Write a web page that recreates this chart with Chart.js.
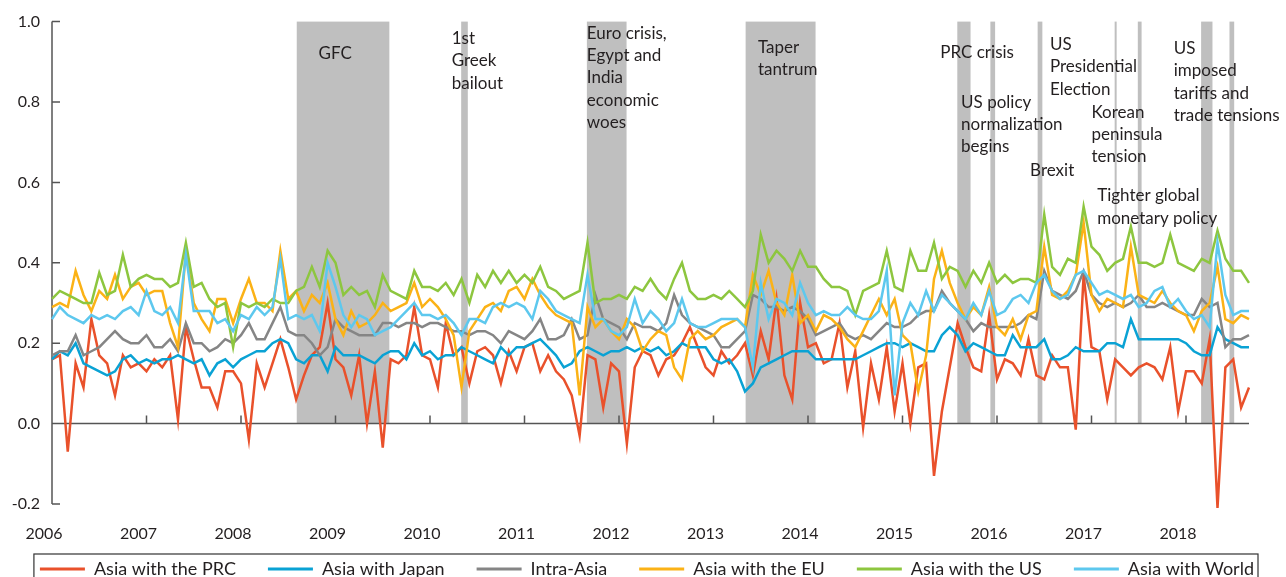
<!DOCTYPE html>
<html>
<head>
<meta charset="utf-8">
<script src="https://cdn.jsdelivr.net/npm/chart.js@4.4.1/dist/chart.umd.min.js"></script>
<style>
  html, body { margin: 0; padding: 0; background: #fff; overflow: hidden; }
  #wrap { width: 1286px; height: 588px; }
</style>
</head>
<body>
<div id="wrap"><canvas id="chart" width="1286" height="588"></canvas></div>
<script>
// monthly observations, Jan 2006 - Sep 2018
const months = [];
for (let yr = 2006; yr <= 2018; yr++) {
    for (let m = 1; m <= 12; m++) {
        if (yr === 2018 && m > 9) break;
        months.push(yr + "-" + String(m).padStart(2, "0"));
    }
}

const prc = [
    0.16, 0.17, -0.07, 0.15, 0.09, 0.26, 0.17, 0.15, 0.07, 0.17, 0.14, 0.15,
    0.13, 0.16, 0.14, 0.17, 0.01, 0.24, 0.16, 0.09, 0.09, 0.04, 0.13, 0.13,
    0.10, -0.04, 0.15, 0.09, 0.15, 0.21, 0.14, 0.06, 0.12, 0.17, 0.19, 0.30,
    0.16, 0.14, 0.07, 0.17, 0.0, 0.13, -0.06, 0.16, 0.15, 0.17, 0.29, 0.17,
    0.16, 0.09, 0.25, 0.17, 0.19, 0.10, 0.18, 0.19, 0.17, 0.10, 0.18, 0.13,
    0.19, 0.20, 0.13, 0.17, 0.13, 0.11, 0.07, -0.03, 0.17, 0.16, 0.04, 0.15,
    0.13, -0.05, 0.14, 0.18, 0.17, 0.12, 0.16, 0.17, 0.20, 0.24, 0.19, 0.14,
    0.12, 0.18, 0.15, 0.17, 0.20, 0.12, 0.23, 0.16, 0.31, 0.12, 0.06, 0.30,
    0.19, 0.20, 0.15, 0.16, 0.25, 0.09, 0.18, -0.01, 0.15, 0.06, 0.19, 0.03,
    0.15, 0.0, 0.14, 0.15, -0.13, 0.03, 0.14, 0.25, 0.19, 0.14, 0.13, 0.27,
    0.11, 0.16, 0.15, 0.12, 0.21, 0.12, 0.11, 0.17, 0.14, 0.14, -0.015, 0.37,
    0.19, 0.18, 0.06, 0.16, 0.14, 0.12, 0.14, 0.15, 0.14, 0.11, 0.19, 0.03,
    0.13, 0.13, 0.10, 0.21, -0.21, 0.14, 0.16, 0.04, 0.09
];
const japan = [
    0.16, 0.18, 0.17, 0.20, 0.15, 0.14, 0.13, 0.12, 0.13, 0.16, 0.17, 0.15,
    0.16, 0.15, 0.16, 0.16, 0.17, 0.16, 0.15, 0.16, 0.12, 0.15, 0.16, 0.14,
    0.16, 0.17, 0.18, 0.18, 0.20, 0.21, 0.20, 0.16, 0.15, 0.17, 0.17, 0.13,
    0.19, 0.17, 0.17, 0.17, 0.16, 0.15, 0.17, 0.18, 0.18, 0.16, 0.20, 0.17,
    0.18, 0.16, 0.17, 0.17, 0.19, 0.18, 0.17, 0.16, 0.15, 0.19, 0.17, 0.19,
    0.19, 0.20, 0.21, 0.19, 0.17, 0.14, 0.15, 0.18, 0.19, 0.18, 0.17, 0.18,
    0.18, 0.19, 0.18, 0.19, 0.18, 0.19, 0.17, 0.18, 0.20, 0.19, 0.19, 0.19,
    0.16, 0.15, 0.16, 0.13, 0.08, 0.10, 0.14, 0.15, 0.16, 0.17, 0.18, 0.18,
    0.18, 0.16, 0.16, 0.16, 0.16, 0.16, 0.16, 0.17, 0.18, 0.19, 0.20, 0.20,
    0.19, 0.20, 0.19, 0.18, 0.18, 0.22, 0.24, 0.22, 0.18, 0.20, 0.19, 0.18,
    0.17, 0.17, 0.22, 0.19, 0.19, 0.19, 0.21, 0.16, 0.16, 0.17, 0.19, 0.18,
    0.18, 0.18, 0.20, 0.20, 0.19, 0.26, 0.21, 0.21, 0.21, 0.21, 0.21, 0.21,
    0.20, 0.18, 0.17, 0.17, 0.24, 0.21, 0.20, 0.19, 0.19
];
const intraAsia = [
    0.17, 0.18, 0.18, 0.22, 0.17, 0.18, 0.19, 0.21, 0.23, 0.21, 0.20, 0.20,
    0.22, 0.19, 0.19, 0.21, 0.18, 0.25, 0.20, 0.20, 0.18, 0.19, 0.21, 0.20,
    0.22, 0.25, 0.21, 0.21, 0.25, 0.29, 0.23, 0.22, 0.22, 0.20, 0.17, 0.19,
    0.26, 0.24, 0.23, 0.22, 0.22, 0.22, 0.25, 0.25, 0.24, 0.25, 0.25, 0.24,
    0.25, 0.25, 0.24, 0.23, 0.23, 0.22, 0.23, 0.23, 0.22, 0.20, 0.23, 0.22,
    0.21, 0.23, 0.26, 0.21, 0.21, 0.22, 0.26, 0.21, 0.22, 0.32, 0.26, 0.25,
    0.24, 0.21, 0.25, 0.24, 0.24, 0.23, 0.25, 0.32, 0.27, 0.25, 0.24, 0.23,
    0.22, 0.19, 0.19, 0.21, 0.23, 0.32, 0.31, 0.29, 0.29, 0.28, 0.29, 0.28,
    0.26, 0.22, 0.23, 0.24, 0.25, 0.22, 0.21, 0.22, 0.21, 0.23, 0.25, 0.24,
    0.24, 0.25, 0.27, 0.28, 0.28, 0.33, 0.30, 0.28, 0.26, 0.23, 0.25, 0.24,
    0.24, 0.24, 0.24, 0.25, 0.27, 0.26, 0.38, 0.33, 0.32, 0.31, 0.33, 0.38,
    0.32, 0.30, 0.29, 0.30, 0.29, 0.30, 0.32, 0.29, 0.29, 0.30, 0.29, 0.28,
    0.27, 0.27, 0.31, 0.29, 0.30, 0.19, 0.21, 0.21, 0.22
];
const eu = [
    0.29, 0.30, 0.29, 0.38, 0.32, 0.28, 0.33, 0.31, 0.37, 0.31, 0.34, 0.35,
    0.32, 0.33, 0.33, 0.25, 0.19, 0.43, 0.30, 0.26, 0.23, 0.31, 0.31, 0.25,
    0.31, 0.36, 0.30, 0.30, 0.28, 0.43, 0.31, 0.33, 0.28, 0.32, 0.30, 0.35,
    0.26, 0.22, 0.28, 0.24, 0.25, 0.27, 0.30, 0.28, 0.29, 0.30, 0.35, 0.29,
    0.31, 0.29, 0.26, 0.22, 0.09, 0.23, 0.26, 0.29, 0.30, 0.28, 0.33, 0.34,
    0.31, 0.36, 0.32, 0.29, 0.27, 0.26, 0.25, 0.07, 0.29, 0.24, 0.26, 0.23,
    0.21, 0.26, 0.24, 0.18, 0.21, 0.23, 0.22, 0.14, 0.11, 0.21, 0.23, 0.21,
    0.22, 0.24, 0.25, 0.26, 0.24, 0.37, 0.32, 0.38, 0.30, 0.27, 0.37, 0.25,
    0.27, 0.23, 0.27, 0.26, 0.24, 0.21, 0.19, 0.23, 0.27, 0.31, 0.27, 0.31,
    0.22, 0.20, 0.08, 0.17, 0.36, 0.43, 0.35, 0.30, 0.26, 0.29, 0.27, 0.34,
    0.24, 0.22, 0.26, 0.21, 0.27, 0.28, 0.44, 0.32, 0.31, 0.33, 0.37, 0.50,
    0.32, 0.28, 0.31, 0.30, 0.29, 0.44, 0.32, 0.31, 0.30, 0.33, 0.30, 0.28,
    0.27, 0.23, 0.28, 0.30, 0.39, 0.26, 0.25, 0.27, 0.26
];
const us = [
    0.31, 0.33, 0.32, 0.31, 0.30, 0.30, 0.375, 0.32, 0.33, 0.42, 0.34, 0.36,
    0.37, 0.36, 0.36, 0.34, 0.35, 0.45, 0.34, 0.35, 0.31, 0.29, 0.30, 0.19,
    0.30, 0.29, 0.30, 0.29, 0.31, 0.30, 0.30, 0.33, 0.34, 0.39, 0.34, 0.43,
    0.40, 0.32, 0.34, 0.32, 0.33, 0.29, 0.37, 0.33, 0.32, 0.31, 0.38, 0.34,
    0.34, 0.33, 0.35, 0.32, 0.36, 0.30, 0.37, 0.34, 0.38, 0.35, 0.38, 0.35,
    0.37, 0.35, 0.39, 0.34, 0.33, 0.31, 0.32, 0.33, 0.45, 0.30, 0.31, 0.31,
    0.32, 0.31, 0.34, 0.33, 0.36, 0.33, 0.31, 0.36, 0.40, 0.33, 0.31, 0.31,
    0.32, 0.31, 0.33, 0.31, 0.29, 0.33, 0.47, 0.40, 0.43, 0.41, 0.38, 0.43,
    0.39, 0.39, 0.36, 0.34, 0.34, 0.33, 0.27, 0.33, 0.34, 0.35, 0.43, 0.34,
    0.33, 0.43, 0.38, 0.38, 0.45, 0.36, 0.39, 0.38, 0.34, 0.38, 0.35, 0.40,
    0.35, 0.37, 0.35, 0.36, 0.36, 0.35, 0.52, 0.39, 0.37, 0.41, 0.40, 0.54,
    0.44, 0.42, 0.38, 0.40, 0.41, 0.49, 0.40, 0.40, 0.39, 0.40, 0.47, 0.40,
    0.39, 0.38, 0.41, 0.40, 0.48, 0.41, 0.38, 0.38, 0.35
];
const world = [
    0.26, 0.29, 0.27, 0.26, 0.25, 0.27, 0.26, 0.27, 0.26, 0.28, 0.29, 0.27,
    0.33, 0.28, 0.27, 0.29, 0.25, 0.42, 0.28, 0.28, 0.28, 0.25, 0.26, 0.23,
    0.27, 0.26, 0.29, 0.27, 0.29, 0.41, 0.26, 0.27, 0.26, 0.27, 0.23, 0.40,
    0.34, 0.27, 0.24, 0.27, 0.26, 0.22, 0.23, 0.24, 0.26, 0.28, 0.30, 0.27,
    0.27, 0.26, 0.27, 0.25, 0.22, 0.26, 0.26, 0.25, 0.29, 0.30, 0.29, 0.30,
    0.29, 0.26, 0.33, 0.31, 0.28, 0.27, 0.26, 0.25, 0.37, 0.26, 0.26, 0.23,
    0.22, 0.24, 0.31, 0.25, 0.28, 0.26, 0.23, 0.25, 0.31, 0.25, 0.24, 0.24,
    0.25, 0.26, 0.26, 0.26, 0.24, 0.14, 0.35, 0.26, 0.31, 0.30, 0.27, 0.35,
    0.30, 0.27, 0.28, 0.27, 0.27, 0.29, 0.27, 0.26, 0.26, 0.28, 0.38, 0.07,
    0.25, 0.30, 0.27, 0.33, 0.28, 0.32, 0.30, 0.28, 0.26, 0.30, 0.27, 0.33,
    0.27, 0.28, 0.31, 0.32, 0.30, 0.35, 0.37, 0.33, 0.31, 0.32, 0.37, 0.38,
    0.35, 0.32, 0.33, 0.32, 0.31, 0.32, 0.29, 0.30, 0.33, 0.34, 0.29, 0.31,
    0.28, 0.26, 0.27, 0.24, 0.45, 0.32, 0.27, 0.28, 0.28
];

const seriesNames = ["Asia with the PRC", "Asia with Japan", "Intra-Asia", "Asia with the EU", "Asia with the US", "Asia with World"];
const seriesColors = ["#e9512b", "#0aa2d4", "#858585", "#fbb216", "#8dc63f", "#5dc8ee"];

// shaded event periods (decimal years)
const eventStart = [2008.59, 2010.33, 2011.66, 2013.34, 2015.58, 2015.93, 2016.43, 2017.245, 2017.49, 2018.16, 2018.46];
const eventEnd   = [2009.57, 2010.40, 2012.08, 2014.08, 2015.72, 2015.98, 2016.48, 2017.265, 2017.53, 2018.28, 2018.51];

// event notes: text lines, anchor year, anchor value (first baseline)
const noteText = [
    ["GFC"],
    ["1st", "Greek", "bailout"],
    ["Euro crisis,", "Egypt and", "India", "economic", "woes"],
    ["Taper", "tantrum"],
    ["PRC crisis"],
    ["US policy", "normalization", "begins"],
    ["Brexit"],
    ["US", "Presidential", "Election"],
    ["Korean", "peninsula", "tension"],
    ["Tighter global", "monetary policy"],
    ["US", "imposed", "tariffs and", "trade tensions"]
];
const noteYear  = [2008.82, 2010.23, 2011.66, 2013.47, 2015.40, 2015.62, 2016.35, 2016.56, 2017.00, 2017.06, 2017.87];
const noteValue = [0.907, 0.944, 0.957, 0.922, 0.910, 0.786, 0.615, 0.929, 0.761, 0.553, 0.919];

const FONT = "Lato, 'Open Sans', sans-serif";
const toIdx = yr => (yr - 2006) * 12;

const decorations = {
    id: "decorations",
    beforeDatasetsDraw(chart) {
        const {ctx, chartArea, scales: {x, y}} = chart;
        ctx.save();
        // event bands
        ctx.fillStyle = "#bfbfbf";
        const top = y.getPixelForValue(1), zero = y.getPixelForValue(0);
        eventStart.forEach((s, i) => {
            const x0 = x.getPixelForValue(toIdx(s));
            const x1 = x.getPixelForValue(toIdx(eventEnd[i]));
            ctx.fillRect(x0, top, Math.max(x1 - x0, 2), zero - top);
        });
        // axes
        ctx.strokeStyle = "#555";
        ctx.lineWidth = 1.5;
        ctx.beginPath();
        ctx.moveTo(chartArea.left, chartArea.top);
        ctx.lineTo(chartArea.left, chartArea.bottom);
        ctx.moveTo(chartArea.left, zero);
        ctx.lineTo(chartArea.right, zero);
        y.ticks.forEach(t => {
            const py = y.getPixelForValue(t.value);
            ctx.moveTo(chartArea.left, py);
            ctx.lineTo(chartArea.left + 8, py);
        });
        months.forEach((m, i) => {
            if (i > 0 && m.endsWith("-01")) {
                const px = x.getPixelForValue(i);
                ctx.moveTo(px, zero);
                ctx.lineTo(px, zero - 8);
            }
        });
        ctx.stroke();
        ctx.restore();
    },
    afterDraw(chart) {
        const {ctx, scales: {x, y}} = chart;
        ctx.save();
        ctx.fillStyle = "#231f20";
        ctx.font = "17px " + FONT;
        ctx.textBaseline = "alphabetic";
        noteText.forEach((lines, i) => {
            const px = x.getPixelForValue(toIdx(noteYear[i]));
            const py = y.getPixelForValue(noteValue[i]);
            lines.forEach((t, j) => ctx.fillText(t, px, py + j * 22.3));
        });
        // frame round the legend
        const boxes = chart.legend.legendHitBoxes;
        if (boxes.length) {
            const first = boxes[0], last = boxes[boxes.length - 1];
            ctx.strokeStyle = "#333";
            ctx.lineWidth = 1.2;
            ctx.strokeRect(first.left - 6, first.top - 6, last.left + last.width - first.left + 10, chart.height);
        }
        ctx.restore();
    }
};

const datasets = [prc, japan, intraAsia, eu, us, world].map((data, i) => ({
    label: seriesNames[i],
    data: data,
    borderColor: seriesColors[i],
    backgroundColor: seriesColors[i],
    borderWidth: 2.5,
    pointRadius: 0,
    tension: 0,
    order: 5 - i,
    clip: 6
}));

new Chart(document.getElementById("chart"), {
    type: "line",
    data: {labels: months, datasets: datasets},
    plugins: [decorations],
    options: {
        responsive: false,
        animation: false,
        layout: {padding: {left: 0, right: 0, top: 20, bottom: 0}},
        plugins: {
            tooltip: {enabled: false},
            legend: {
                position: "bottom",
                align: "end",
                labels: {
                    font: {family: FONT, size: 18},
                    color: "#231f20",
                    boxWidth: 45,
                    boxHeight: 3,
                    padding: 32,
                    sort: (a, b) => a.datasetIndex - b.datasetIndex,
                    generateLabels: chart => Chart.defaults.plugins.legend.labels.generateLabels(chart)
                        .map(l => Object.assign(l, {lineWidth: 0, fillStyle: l.strokeStyle}))
                }
            }
        },
        scales: {
            x: {
                type: "category",
                offset: false,
                grid: {display: false, drawTicks: false},
                border: {display: false},
                afterFit: s => {
                    s.height = 24;
                    s._computeLabelArea = () => undefined; // let year labels run into the legend band
                },
                ticks: {
                    autoSkip: false,
                    maxRotation: 0,
                    padding: 20,
                    labelOffset: -8,
                    color: "#231f20",
                    font: {family: FONT, size: 16},
                    callback: function (v) {
                        const lab = this.getLabelForValue(v);
                        return lab.endsWith("-01") ? lab.slice(0, 4) : "";
                    }
                }
            },
            y: {
                min: -0.2,
                max: 1.0,
                grid: {display: false, drawTicks: false},
                border: {display: false},
                afterFit: s => { s.width = 52; },
                ticks: {
                    stepSize: 0.2,
                    padding: 12,
                    color: "#231f20",
                    font: {family: FONT, size: 16},
                    callback: v => (Math.abs(v) < 1e-9 ? 0 : v).toFixed(1)
                }
            },
            // empty right margin so the chart stops where the original does
            yRight: {
                position: "right",
                grid: {display: false, drawTicks: false},
                border: {display: false},
                ticks: {display: false},
                afterFit: s => { s.width = 37; }
            }
        }
    }
});
</script>
</body>
</html>
